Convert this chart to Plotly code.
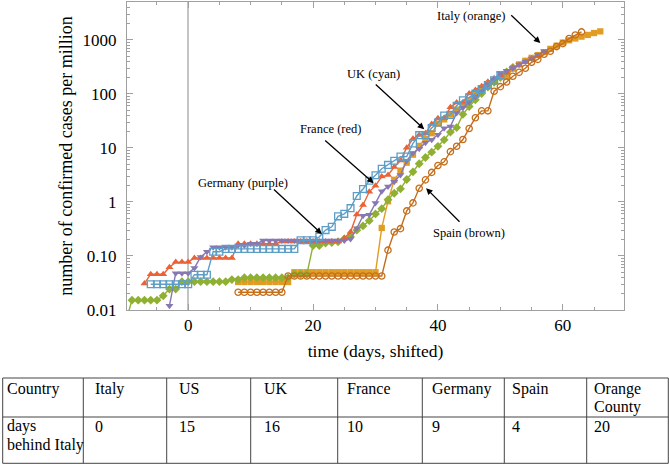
import plotly.graph_objects as go

# ---------------- data (cases per million, days shifted) ----------------
italy_days = [8, 9, 10, 11, 12, 13, 14, 15, 16, 17, 18, 19, 20, 21, 22, 23, 24, 25, 26, 27, 28, 29, 30,
              31, 32, 33, 34, 35, 36, 37, 38, 39, 40, 41, 42, 43, 44, 45, 46, 47, 48, 49, 50,
              51, 52, 53, 54, 55, 56, 57, 58, 59, 60, 61, 62, 63, 64, 65, 66]
italy_vals = [0.033, 0.033, 0.033, 0.033, 0.033, 0.033, 0.033, 0.033, 0.033,
              0.050, 0.050, 0.050, 0.050, 0.050, 0.050, 0.050, 0.050, 0.050, 0.050, 0.050, 0.050, 0.050, 0.050,
              0.33, 1.03, 2.57, 3.79, 5.33, 7.50, 10.9, 14.7, 18.7, 28.1, 33.7, 41.5, 51.2, 63.9, 76.8, 97.5,
              122, 152, 168, 206, 206, 293, 351, 410, 464, 522, 592, 680, 779, 888, 980, 1059, 1146, 1232,
              1335, 1433]

us_days = [-10, -9, -8, -7, -6, -5, -4, -3, -2, -1, 0, 1, 2, 3, 4, 5, 6, 7, 8, 9, 10, 11, 12, 13, 14, 15,
           16, 17, 18, 19, 20, 21, 22, 23, 24, 25, 26, 27, 28, 29, 30, 31, 32, 33, 34, 35, 36, 37, 38, 39,
           40, 41, 42, 43, 44, 45, 46, 47, 48, 49, 50, 51, 52]
us_vals = [0.0061, 0.0152, 0.0152, 0.0152, 0.0152, 0.0152, 0.0183, 0.0244, 0.0244,
           0.0335, 0.0335, 0.0335, 0.0335, 0.0335, 0.0335, 0.0335, 0.0335, 0.0366, 0.0366,
           0.0397, 0.0397, 0.0397, 0.0397, 0.0397, 0.0397, 0.0397, 0.0397, 0.0458, 0.0458, 0.0458,
           0.156, 0.156, 0.174, 0.177, 0.183, 0.207, 0.226, 0.30, 0.36, 0.45, 0.60, 0.75, 1.10, 1.45,
           1.75, 2.6, 3.6, 5.08, 6.65, 8.33, 10.7, 14.1, 19.6, 23.8, 41.8, 58.3, 77.8, 101.6, 134,
           164, 201, 256, 310]

france_days = [-7, -6, -5, -4, -3, -2, -1, 0, 1, 2, 3, 4, 5, 6, 7, 8, 9, 10, 11, 12, 13, 14, 15, 16, 17,
               18, 19, 20, 21, 22, 23, 24, 25, 26, 27, 28, 29, 30, 31, 32, 33, 34, 35, 36, 37, 38, 39, 40,
               41, 42, 43, 44, 45, 46, 47, 48, 49, 50, 51, 52, 53, 54, 55, 56]
france_vals = [0.031, 0.046, 0.046, 0.046, 0.062, 0.077, 0.077, 0.077,
               0.092, 0.092, 0.092, 0.092, 0.092, 0.092, 0.092,
               0.169, 0.169, 0.169, 0.169, 0.169, 0.169, 0.169,
               0.185, 0.185, 0.185, 0.185, 0.185, 0.185, 0.185, 0.185, 0.185, 0.185,
               0.215, 0.277, 0.585, 0.877, 1.54, 2.0, 2.94, 3.14, 4.43, 5.85, 10.1, 14.7, 17.4, 18.7,
               27.6, 35.2, 35.2, 56.5, 68.9, 69.4, 102, 118, 139, 167, 194, 220, 246, 305, 343, 388,
               449, 507]

germany_days = [-3, -2, -1, 0, 1, 2, 3, 4, 5, 6, 7, 8, 9, 10, 11, 12, 13, 14, 15, 16, 17, 18, 19, 20, 21,
                22, 23, 24, 25, 26, 27, 28, 29, 30, 31, 32, 33, 34, 35, 36, 37, 38, 39, 40, 41, 42, 43, 44,
                45, 46, 47, 48, 49, 50, 51, 52, 53, 54, 55, 56, 57]
germany_vals = [0.012, 0.048, 0.048, 0.048, 0.060, 0.096, 0.120, 0.145, 0.145, 0.145, 0.145,
                0.157, 0.157, 0.169, 0.169,
                0.193, 0.193, 0.193, 0.193, 0.193, 0.193, 0.193, 0.193, 0.193, 0.193, 0.193, 0.193,
                0.193, 0.193, 0.205, 0.325, 0.554, 0.578, 0.952, 1.57, 1.92, 2.36, 3.16, 5.81, 8.07,
                9.63, 12.5, 14.2, 17.6, 23.0, 25.0, 44.3, 55.2, 69.8, 87.6, 111.5, 148.5, 184.6, 239,
                268, 300, 350, 397, 450, 529, 613]

spain_days = [8, 9, 10, 11, 12, 13, 14, 15, 16, 17, 18, 19, 20, 21, 22, 23, 24, 25, 26, 27, 28, 29, 30, 31,
              32, 33, 34, 35, 36, 37, 38, 39, 40, 41, 42, 43, 44, 45, 46, 47, 48, 49, 50, 51, 52, 53, 54,
              55, 56, 57, 58, 59, 60, 61, 62, 63]
spain_vals = [0.0213, 0.0213, 0.0213, 0.0213, 0.0213, 0.0213, 0.0213, 0.0213,
              0.0426, 0.0426, 0.0426, 0.0426, 0.0426, 0.0426, 0.0426, 0.0426, 0.0426, 0.0426, 0.0426,
              0.0426, 0.0426, 0.0426, 0.0426, 0.0426,
              0.128, 0.277, 0.320, 0.682, 0.959, 1.79, 2.56, 3.52, 4.73, 5.52, 8.53, 10.7, 14.3, 22.9,
              36.1, 48.5, 48.5, 111.6, 136, 166, 212, 250, 297, 383, 435, 541, 613, 749, 850, 1056,
              1232, 1401]

uk_days = [-6, -5, -4, -3, -2, -1, 0, 1, 2, 3, 4, 5, 6, 7, 8, 9, 10, 11, 12, 13, 14, 15, 16, 17, 18, 19,
           20, 21, 22, 23, 24, 25, 26, 27, 28, 29, 30, 31, 32, 33, 34, 35, 36, 37, 38, 39, 40, 41, 42, 43,
           44, 45, 46, 47, 48, 49, 50]
uk_vals = [0.030, 0.030, 0.030, 0.030, 0.030, 0.030, 0.030, 0.045, 0.045, 0.045, 0.120, 0.120,
           0.135, 0.135, 0.135, 0.135, 0.135, 0.135, 0.135, 0.135, 0.135, 0.135, 0.135, 0.135,
           0.195, 0.195, 0.195, 0.226, 0.301, 0.346, 0.541, 0.602, 0.767, 1.29, 1.74, 2.47, 3.11, 4.12,
           4.84, 5.77, 6.90, 6.90, 12.1, 17.2, 17.2, 23.3, 29.5, 39.7, 40.8, 60.4, 76.2, 86.4, 101, 123,
           145, 178, 222]

table_header = ["Country", "Italy", "US", "UK", "France", "Germany", "Spain", "Orange", "County"]
table_row2 = ["days", "behind Italy", "0", "15", "16", "10", "9", "4", "20"]

x_tick_vals = [0, 20, 40, 60]
y_tick_vals = [0.01, 0.1, 1, 10, 100, 1000]
y_tick_text = ["0.01", "0.10", "1", "10", "100", "1000"]

# ---------------- figure ----------------
W, H = 669, 467
L, R, T, B = 127, 45, 2, 157
PW, PH = W - L - R, H - T - B


def px_x(px):
    return (px - L) / PW


def px_y(py):
    return (H - B - py) / PH


SERIF = "Liberation Serif"
fig = go.Figure()

series = [
    ("Italy", italy_days, italy_vals, "#E19C24", "square", 6.3, False),
    ("US", us_days, us_vals, "#8FB032", "diamond", 6.8, False),
    ("France", france_days, france_vals, "#EB6235", "triangle-up", 7, False),
    ("Germany", germany_days, germany_vals, "#8778B3", "triangle-down", 7, False),
    ("Spain", spain_days, spain_vals, "#C56E1A", "circle-open", 6.3, True),
    ("UK", uk_days, uk_vals, "#5D9EC7", "square-open", 6.8, True),
]
for name, d, v, c, sym, sz, hollow in series:
    fig.add_trace(go.Scatter(
        x=d, y=v, mode="lines+markers", name=name,
        line=dict(color=c, width=1.4),
        marker=dict(symbol=sym, size=sz, color=c,
                    line=dict(color=c, width=1.3 if hollow else 0)),
    ))

minor_y = []
for e in [0.01, 0.1, 1, 10, 100, 1000]:
    for k in range(2, 10):
        if k * e <= 5000:
            minor_y.append(k * e)

axis_col = "#a0a0a0"
fig.update_xaxes(
    range=[-9.8, 69.8], tickmode="array", tickvals=x_tick_vals,
    ticks="inside", ticklen=6, tickcolor=axis_col, tickwidth=1,
    showline=True, linecolor=axis_col, linewidth=1, mirror="ticks",
    showgrid=False, zeroline=True, zerolinecolor="#c4c4c4", zerolinewidth=1.5,
    minor=dict(tickvals=[-5, 5, 10, 15, 25, 30, 35, 45, 50, 55, 65], ticks="inside",
               ticklen=3, tickcolor=axis_col, showgrid=False),
    tickfont=dict(family=SERIF, size=17, color="black"),
    title=dict(text="time (days, shifted)", font=dict(family=SERIF, size=17.5, color="black"),
               standoff=10),
)
fig.update_yaxes(
    type="log", range=[-2, 3.7], tickmode="array", tickvals=y_tick_vals, ticktext=y_tick_text,
    ticks="inside", ticklen=6, tickcolor=axis_col, tickwidth=1,
    showline=True, linecolor=axis_col, linewidth=1, mirror="ticks",
    showgrid=False, zeroline=False,
    minor=dict(tickvals=minor_y, ticks="inside", ticklen=3, tickcolor=axis_col, showgrid=False),
    tickfont=dict(family=SERIF, size=17, color="black"), ticklabelstandoff=6,
    title=dict(text="number of confirmed cases per million",
               font=dict(family=SERIF, size=18, color="black"), standoff=5),
)

# ---------------- annotations (labels + arrows) ----------------
labels = [
    ("Italy (orange)", 45.3, 3.444),
    ("UK (cyan)", 29.6, 2.37),
    ("France (red)", 22.8, 1.346),
    ("Germany (purple)", 8.8, 0.357),
    ("Spain (brown)", 45.0, -0.58),
]
for txt, lx, ly in labels:
    fig.add_annotation(x=lx, y=ly, xref="x", yref="y", text=txt, showarrow=False,
                       xanchor="center", yanchor="middle",
                       font=dict(family=SERIF, size=12.5, color="black"))

arrows = [  # (tail x, tail log y, head x, head log y)
    (51.5, 3.48, 56.4, 2.94),
    (29.8, 2.198, 37.8, 1.346),
    (21.7, 1.161, 29.7, 0.346),
    (13.5, 0.254, 21.4, -0.593),
    (43.7, -0.394, 38.1, 0.254),
]
for tx, ty, hx, hy in arrows:
    fig.add_annotation(x=hx, y=hy, xref="x", yref="y", ax=tx, ay=ty, axref="x", ayref="y",
                       text="", showarrow=True, arrowhead=2, arrowsize=1.0, arrowwidth=1.3,
                       arrowcolor="black", standoff=0, startstandoff=0)

# ---------------- table below the chart ----------------
tbl_col = "#444444"
col_lines = [2.7, 83.3, 166.7, 250.7, 337.7, 422.3, 504.3, 586.7, 668.3]
row_lines = [378, 417, 463.3]
for cx in col_lines:
    fig.add_shape(type="line", xref="paper", yref="paper",
                  x0=px_x(cx), x1=px_x(cx), y0=px_y(row_lines[0]), y1=px_y(row_lines[-1]),
                  line=dict(color=tbl_col, width=1))
for ry in row_lines:
    fig.add_shape(type="line", xref="paper", yref="paper",
                  x0=px_x(col_lines[0]), x1=px_x(col_lines[-1]), y0=px_y(ry), y1=px_y(ry),
                  line=dict(color=tbl_col, width=1))

text_x = [5, 92.7, 176.7, 261.7, 345, 430, 510, 591.7]
cells = []
for i in range(8):
    cells.append((table_header[i], text_x[i], 388.5))
cells.append((table_header[8], text_x[7], 407))
cells.append((table_row2[0], text_x[0], 426))
cells.append((table_row2[1], text_x[0], 445))
for i in range(7):
    cells.append((table_row2[i + 2], text_x[i + 1], 426))
for txt, cx, cy in cells:
    fig.add_annotation(x=px_x(cx), y=px_y(cy), xref="paper", yref="paper", text=txt,
                       showarrow=False, xanchor="left", yanchor="middle",
                       font=dict(family=SERIF, size=16, color="black"))

fig.update_layout(
    width=W, height=H, margin=dict(l=L, r=R, t=T, b=B, autoexpand=False),
    paper_bgcolor="white", plot_bgcolor="white", showlegend=False,
    font=dict(family=SERIF, color="black"),
)

# remove the browser's default page margin so the figure sits at the window origin
fig.write_html("out.html", config={"displayModeBar": False},
               post_script="document.body.style.margin='0';document.body.style.overflow='hidden';")
